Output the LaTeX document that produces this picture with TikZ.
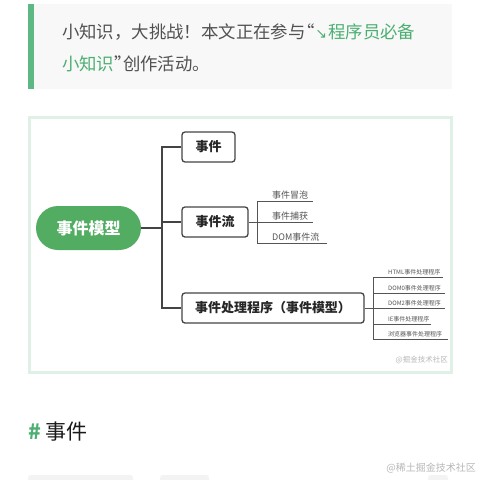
\documentclass[tikz,border=0pt]{standalone}
\usepackage{fontspec}
\setmainfont{Noto Sans CJK SC}
\newfontfamily\cjk{Noto Sans CJK SC}
\newfontfamily\dejavu{DejaVu Sans}
\definecolor{txt}{HTML}{515151}
\definecolor{lnk}{HTML}{4CAF72}
\definecolor{bar}{HTML}{5DB883}
\definecolor{qbg}{HTML}{F8F8F8}
\definecolor{frame}{HTML}{DFF1E6}
\definecolor{rootg}{HTML}{52AD62}
\definecolor{linec}{HTML}{444444}
\definecolor{subc}{HTML}{555555}
\definecolor{wm}{HTML}{B8B8B8}
\definecolor{codebg}{HTML}{F3F3F3}
\newcommand{\fs}[1]{\fontsize{#1}{#1}\selectfont}
\begin{document}
\begin{tikzpicture}[x=1pt,y=-1pt,
  topic/.style={draw=linec,line width=1.3pt,rounded corners=3pt,fill=white,inner sep=0pt,minimum height=30pt,font=\cjk\bfseries\fs{13},text=black!85},
  conn/.style={draw=linec,line width=1.8pt},
  subl/.style={draw=subc,line width=0.8pt},
  subt/.style={anchor=south west,inner sep=0pt,text=subc,font=\cjk\fs{9}},
  tinyt/.style={anchor=south west,inner sep=0pt,text=subc,font=\cjk\fs{6}}]
\useasboundingbox (0,0) rectangle (480,480);
\fill[white] (0,0) rectangle (480,480);
% quote block
\fill[qbg] (34,4) rectangle (452,89);
\fill[bar] (28,4) rectangle (34,89);
\node (q1) [anchor=west,inner sep=0pt,font=\cjk\fs{17.4},text=txt] at (62,32)
  {小知识，大挑战！本文正在参与\makebox[0.5em][r]{“}\hspace{1pt}{\color{lnk}{\dejavu\fs{14}↘}\hspace{1pt}程序员必备}};
\node (q2) [anchor=west,inner sep=0pt,font=\cjk\fs{17.4},text=txt] at (62,64)
  {{\color{lnk}小知识}\makebox[0.5em][l]{”}创作活动。};
% diagram frame
\draw[frame,line width=3pt] (29.5,117.5) rectangle (451,372);
% root
\node (root) [fill=rootg,rounded corners=22pt,minimum width=105pt,minimum height=44pt,inner sep=0pt,text=white,font=\cjk\bfseries\fs{16}] at (88.5,228) {事件模型};
% topics
\node (t1) [topic,minimum width=53pt] at (208.5,147) {事件};
\node (t2) [topic,minimum width=66pt] at (215,222) {事件流};
\node (t3) [topic,minimum width=182pt] at (273,308) {事件处理程序（事件模型）};
\coordinate (j) at (162,228);
\draw[conn] (root.east) -- (j);
\draw[conn] (t1.west) -- (t1.west -| j) -- (t3.west -| j) -- (t3.west);
\draw[conn] (t2.west -| j) -- (t2.west);
% event flow sub items
\coordinate (k) at (257,222);
\coordinate (a1) at (257,201);
\coordinate (a3) at (257,243);
\coordinate (e1) at (313,201);
\coordinate (e2) at (313,222);
\coordinate (e3) at (327,243);
\draw[subl] (t2.east) -- (k);
\draw[subl] (a1) -- (a3);
\draw[subl] (a1) -- (e1);
\draw[subl] (k) -- (e2);
\draw[subl] (a3) -- (e3);
\node (s1) [subt] at (272,199) {事件冒泡};
\node (s2) [subt] at (272,220) {事件捕获};
\node (s3) [subt] at (272,241) {DOM事件流};
% handler sub items
\coordinate (m) at (373,308);
\coordinate (b1) at (373,277);
\coordinate (b2) at (373,293);
\coordinate (b4) at (373,324);
\coordinate (b5) at (373,339);
\coordinate (f1) at (443,277);
\coordinate (f2) at (445,293);
\coordinate (f3) at (445,308);
\coordinate (f4) at (431,324);
\coordinate (f5) at (448,339);
\draw[subl] (t3.east) -- (m);
\draw[subl] (b1) -- (b5);
\draw[subl] (b1) -- (f1);
\draw[subl] (b2) -- (f2);
\draw[subl] (m) -- (f3);
\draw[subl] (b4) -- (f4);
\draw[subl] (b5) -- (f5);
\node (h1) [tinyt] at (388,275) {HTML事件处理程序};
\node (h2) [tinyt] at (388,291) {DOM0事件处理程序};
\node (h3) [tinyt] at (388,306) {DOM2事件处理程序};
\node (h4) [tinyt] at (388,322) {IE事件处理程序};
\node (h5) [tinyt] at (388,337) {浏览器事件处理程序};
\node (wm1) [anchor=east,inner sep=0pt,text=wm,font=\cjk\fs{7.5}] at (448,360) {@掘金技术社区};
% heading
\node (hash) [anchor=west,inner sep=0pt,text=lnk,font=\cjk\bfseries\fs{21}] at (28,432) {\#};
\node (head) [anchor=west,inner sep=0pt,text=black!90,font=\cjk\fs{21}] at (45,432) {事件};
% bottom
\fill[codebg,rounded corners=3pt] (28,475) rectangle (133,486);
\fill[codebg,rounded corners=3pt] (160,475) rectangle (209,486);
\fill[codebg,rounded corners=3pt] (428,475) rectangle (448,486);
\node (wm2) [anchor=east,inner sep=0pt,text=wm,font=\cjk\fs{10}] at (476,468) {@稀土掘金技术社区};
\end{tikzpicture}
\end{document}
